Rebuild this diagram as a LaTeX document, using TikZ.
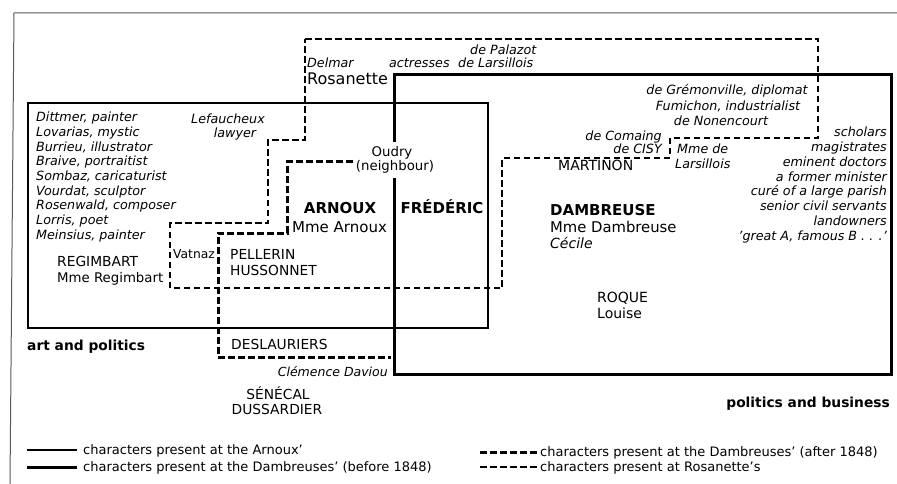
\documentclass[tikz,border=0pt]{standalone}
\usepackage{fontspec}
\setmainfont{DejaVu Sans}
\newcommand\myfs[1]{\fontsize{#1}{#1}\selectfont}
\tikzset{
  framel/.style={line width=1pt, black!65},
  arnline/.style={line width=1.2pt},
  dambline/.style={line width=3pt},
  dambdash/.style={line width=3pt, dash pattern=on 7pt off 3pt},
  rosdash/.style={line width=1.2pt, dash pattern=on 6.5pt off 3.5pt},
  lst/.style={inner sep=0pt, font=\myfs{12.7}\itshape},
  nm/.style={inner sep=0pt, font=\myfs{13.8}},
  big/.style={inner sep=0pt, font=\myfs{15}\bfseries},
  mid/.style={inner sep=0pt, font=\myfs{15}},
  hd/.style={inner sep=0pt, font=\myfs{13.8}\bfseries},
  lg/.style={inner sep=0pt, font=\myfs{13}},
}
\begin{document}
\begin{tikzpicture}[x=1pt,y=-1pt]
\useasboundingbox (0,0) rectangle (897,484);
% outer frame (scan edge)
\draw[framel] (897,13) -- (14,13) -- (10,484);
% Arnoux' rectangle
\draw[arnline] (28,103) rectangle (488,328);
% Dambreuses' before 1848
\draw[dambline] (394,142) -- (394,75) -- (891,75) -- (891,374) -- (394,374) -- (394,178);
% Dambreuses' after 1848
\draw[dambdash] (353,162) -- (287,162) -- (287,233) -- (218,233) -- (218,357) -- (391,357);
% Rosanette's
\draw[rosdash] (305,39) -- (818,39) -- (818,138) -- (670,138) -- (670,158) -- (502,158) -- (502,288) -- (170,288) -- (170,223) -- (268,223) -- (268,140) -- (305,140) -- cycle;

% left list
\node[lst, anchor=base west] (l1) at (36,121.7) {Dittmer, painter};
\node[lst, anchor=base west] (l2) at (36,136.4) {Lovarias, mystic};
\node[lst, anchor=base west] (l3) at (36,151.1) {Burrieu, illustrator};
\node[lst, anchor=base west] (l4) at (36,165.8) {Braive, portraitist};
\node[lst, anchor=base west] (l5) at (36,180.5) {Sombaz, caricaturist};
\node[lst, anchor=base west] (l6) at (36,195.2) {Vourdat, sculptor};
\node[lst, anchor=base west] (l7) at (36,209.9) {Rosenwald, composer};
\node[lst, anchor=base west] (l8) at (36,224.6) {Lorris, poet};
\node[lst, anchor=base west] (l9) at (36,239.3) {Meinsius, painter};
\node[lst, anchor=base] (lef) at (228,123.7) {Lefaucheux};
\node[lst, anchor=base] (law) at (235,137.7) {lawyer};
\node[nm, anchor=base west] (reg) at (57,266) {REGIMBART};
\node[nm, anchor=base west, font=\myfs{13.3}] (mreg) at (57,282) {Mme Regimbart};
\node[nm, anchor=base west, font=\myfs{12.3}] (vat) at (173,258.5) {Vatnaz};
\node[nm, anchor=base west] (pel) at (230,259) {PELLERIN};
\node[nm, anchor=base west] (hus) at (230,275) {HUSSONNET};
\node[big, anchor=base] (arn) at (340,213.4) {ARNOUX};
\node[mid, anchor=base] (marn) at (339.5,232.4) {Mme Arnoux};
\node[big, anchor=base] (fred) at (442,213.4) {FRÉDÉRIC};
\node[nm, anchor=base, font=\myfs{13.3}] (oud) at (392,156.8) {Oudry};
\node[nm, anchor=base, font=\myfs{13.3}] (nei) at (395,170.8) {(neighbour)};
% top
\node[lst, anchor=base west] (del) at (307,67.5) {Delmar};
\node[inner sep=0pt, font=\myfs{16}, anchor=base west] (ros) at (307,84.8) {Rosanette};
\node[lst, anchor=base west] (act) at (389,67.5) {actresses};
\node[lst, anchor=base west] (pal) at (470,54.5) {de Palazot};
\node[lst, anchor=base west] (lars) at (458,67.5) {de Larsillois};
% right
\node[lst, anchor=base] (gre) at (727,94.7) {de Grémonville, diplomat};
\node[lst, anchor=base] (fum) at (728,110.7) {Fumichon, industrialist};
\node[lst, anchor=base] (non) at (721,125.7) {de Nonencourt};
\node[lst, anchor=base east] (com) at (662,140.7) {de Comaing};
\node[lst, anchor=base east] (cis) at (662,153.7) {de CISY};
\node[lst, anchor=base west] (mde) at (677,153.7) {Mme de};
\node[lst, anchor=base west] (mlar) at (675,168.7) {Larsillois};
\node[nm, anchor=base west, font=\myfs{14}] (mar) at (558,171) {MARTINON};
\node[lst, anchor=base east] (r1) at (887,136.7) {scholars};
\node[lst, anchor=base east] (r2) at (887,151.5) {magistrates};
\node[lst, anchor=base east] (r3) at (887,166.3) {eminent doctors};
\node[lst, anchor=base east] (r4) at (887,181.1) {a former minister};
\node[lst, anchor=base east] (r5) at (887,195.9) {curé of a large parish};
\node[lst, anchor=base east] (r6) at (887,210.7) {senior civil servants};
\node[lst, anchor=base east] (r7) at (887,225.5) {landowners};
\node[lst, anchor=base east] (r8) at (887,240.3) {'great A, famous B . . .'};
\node[big, anchor=base west] (dam) at (550,215.4) {DAMBREUSE};
\node[mid, anchor=base west, font=\myfs{14.8}] (mdam) at (550,232.3) {Mme Dambreuse};
\node[lst, anchor=base west, font=\myfs{14}\itshape] (cec) at (550,248) {Cécile};
\node[nm, anchor=base west, font=\myfs{14}] (roq) at (597,302) {ROQUE};
\node[nm, anchor=base west, font=\myfs{14}] (lou) at (597,318) {Louise};
% bottom
\node[hd, anchor=base west] (ap) at (27,350) {art and politics};
\node[hd, anchor=base east] (pb) at (890,407) {politics and business};
\node[nm, anchor=base west] (des) at (231,349) {DESLAURIERS};
\node[lst, anchor=base east, font=\myfs{12.5}\itshape] (cle) at (388,376.5) {Clémence Daviou};
\node[nm, anchor=base] (sen) at (278,399) {SÉNÉCAL};
\node[nm, anchor=base] (dus) at (277,414) {DUSSARDIER};
% legend
\coordinate (k1a) at (27,450); \coordinate (k1b) at (77,450);
\coordinate (k2a) at (27,467); \coordinate (k2b) at (77,467);
\coordinate (k3a) at (480,452); \coordinate (k3b) at (537,452);
\coordinate (k4a) at (480,467); \coordinate (k4b) at (537,467);
\draw[arnline] (k1a) -- (k1b);
\draw[dambline] (k2a) -- (k2b);
\draw[dambdash] (k3a) -- (k3b);
\draw[rosdash] (k4a) -- (k4b);
\node[lg, anchor=base west] (t1) at (83,454.7) {characters present at the Arnoux'};
\node[lg, anchor=base west] (t2) at (83,471.7) {characters present at the Dambreuses' (before 1848)};
\node[lg, anchor=base west] (t3) at (540,456.7) {characters present at the Dambreuses' (after 1848)};
\node[lg, anchor=base west] (t4) at (540,471.7) {characters present at Rosanette's};
\end{tikzpicture}
\end{document}
